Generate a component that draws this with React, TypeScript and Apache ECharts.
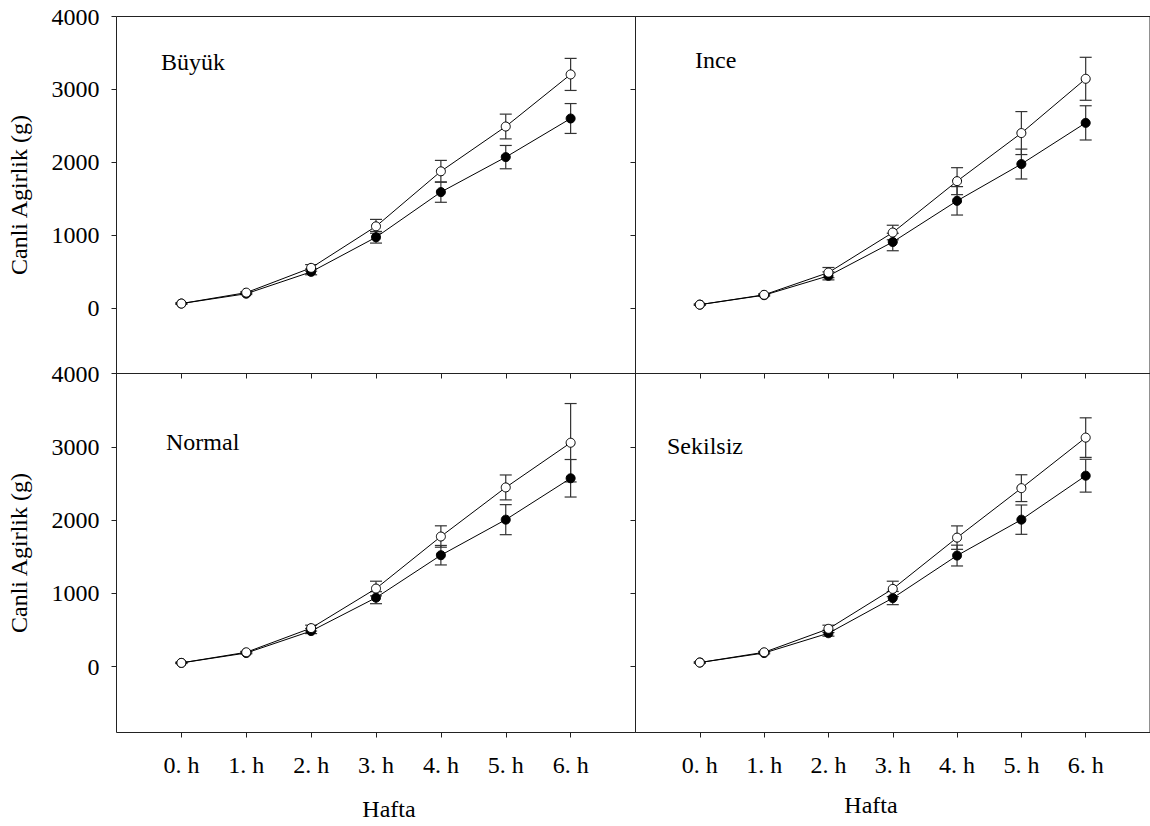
import React, { useEffect, useRef } from "react";
import * as echarts from "echarts";

// ---- data ----
const weeks = ["0. h", "1. h", "2. h", "3. h", "4. h", "5. h", "6. h"];
const weekIdx = [0, 1, 2, 3, 4, 5, 6];
const yTicks = [0, 1000, 2000, 3000, 4000];
const panelNames = ["Büyük", "Ince", "Normal", "Sekilsiz"];

// Büyük
const buyukOpen = [60, 210, 550, 1120, 1875, 2490, 3205];
const buyukOpenErr = [8, 12, 45, 95, 150, 170, 220];
const buyukFilled = [60, 195, 495, 970, 1590, 2070, 2600];
const buyukFilledErr = [8, 12, 40, 80, 140, 160, 205];
// Ince
const inceOpen = [45, 180, 485, 1035, 1740, 2400, 3145];
const inceOpenErr = [8, 12, 70, 100, 185, 295, 295];
const inceFilled = [45, 175, 440, 905, 1470, 1975, 2540];
const inceFilledErr = [8, 12, 55, 120, 195, 205, 235];
// Normal
const normalOpen = [50, 195, 525, 1065, 1775, 2445, 3055];
const normalOpenErr = [8, 12, 40, 100, 146, 170, 535];
const normalFilled = [50, 185, 485, 940, 1520, 2005, 2570];
const normalFilledErr = [8, 12, 35, 82, 133, 205, 256];
// Sekilsiz
const sekilsizOpen = [55, 195, 515, 1060, 1760, 2435, 3125];
const sekilsizOpenErr = [8, 12, 50, 105, 160, 183, 270];
const sekilsizFilled = [55, 185, 455, 935, 1515, 2005, 2605];
const sekilsizFilledErr = [8, 12, 40, 90, 142, 200, 224];

const panels = [
  { open: buyukOpen, openErr: buyukOpenErr, filled: buyukFilled, filledErr: buyukFilledErr },
  { open: inceOpen, openErr: inceOpenErr, filled: inceFilled, filledErr: inceFilledErr },
  { open: normalOpen, openErr: normalOpenErr, filled: normalFilled, filledErr: normalFilledErr },
  { open: sekilsizOpen, openErr: sekilsizOpenErr, filled: sekilsizFilled, filledErr: sekilsizFilledErr },
];

const FONT = "Liberation Serif, Times New Roman, serif";
const AXIS_COLOR = "#222";

export default function App() {
  const ref = useRef<HTMLDivElement>(null);

  useEffect(() => {
    if (!ref.current) return;
    const chart = echarts.init(ref.current, undefined, { renderer: "svg" });

    const grids = [
      { left: 116.5, top: 16.5, width: 519, height: 357 },
      { left: 635.5, top: 16.5, width: 519, height: 357 },
      { left: 116.5, top: 373.5, width: 519, height: 359 },
      { left: 635.5, top: 373.5, width: 519, height: 359 },
    ].map((g) => ({ ...g, show: true, borderColor: AXIS_COLOR, borderWidth: 1, backgroundColor: "transparent" }));

    const xAxes = grids.map((_, i) => ({
      type: "value",
      gridIndex: i,
      position: "bottom",
      min: -1,
      max: 7,
      splitLine: { show: false },
      axisLine: { show: false, onZero: false },
      axisTick: { show: true, customValues: weekIdx, length: 5, lineStyle: { color: AXIS_COLOR } },
      axisLabel: {
        show: i >= 2,
        customValues: weekIdx,
        formatter: (v: number) => weeks[Math.round(v)] ?? "",
        fontFamily: FONT,
        fontSize: 24,
        color: "#000",
        margin: 20,
      },
    }));

    const yAxes = grids.map((_, i) => ({
      type: "value",
      gridIndex: i,
      position: "left",
      min: -900,
      max: 4000,
      splitLine: { show: false },
      axisLine: { show: false, onZero: false },
      axisTick: { show: true, customValues: yTicks, length: 5, lineStyle: { color: AXIS_COLOR } },
      axisLabel: {
        show: i % 2 === 0,
        customValues: yTicks,
        formatter: (v: number) => String(v),
        fontFamily: FONT,
        fontSize: 24,
        color: "#000",
        margin: 17,
      },
      name: i % 2 === 0 ? "Canli Agirlik (g)" : "",
      nameLocation: "middle",
      nameRotate: 90,
      nameGap: 86,
      nameTextStyle: { fontFamily: FONT, fontSize: 24, color: "#000" },
    }));

    const errSeries = (vals: number[], errs: number[], i: number) => ({
      type: "custom",
      xAxisIndex: i,
      yAxisIndex: i,
      z: 1,
      silent: true,
      data: vals.map((v, k) => [weekIdx[k], v, errs[k]]),
      encode: { x: 0, y: 1 },
      renderItem: (_p: any, api: any) => {
        const x = api.value(0);
        const y = api.value(1);
        const e = api.value(2);
        const hi = api.coord([x, y + e]);
        const lo = api.coord([x, y - e]);
        const w = 6;
        const st = { stroke: "#333", lineWidth: 1.2 };
        return {
          type: "group",
          children: [
            { type: "line", shape: { x1: hi[0], y1: hi[1], x2: lo[0], y2: lo[1] }, style: st },
            { type: "line", shape: { x1: hi[0] - w, y1: hi[1], x2: hi[0] + w, y2: hi[1] }, style: st },
            { type: "line", shape: { x1: lo[0] - w, y1: lo[1], x2: lo[0] + w, y2: lo[1] }, style: st },
          ],
        };
      },
    });

    const series: any[] = [];
    panels.forEach((p, i) => {
      series.push(errSeries(p.filled, p.filledErr, i));
      series.push(errSeries(p.open, p.openErr, i));
      series.push({
        type: "line",
        xAxisIndex: i,
        yAxisIndex: i,
        z: 3,
        data: p.filled.map((v, k) => [weekIdx[k], v]),
        symbol: "circle",
        symbolSize: 9,
        lineStyle: { color: "#000", width: 1 },
        itemStyle: { color: "#000", borderColor: "#000", borderWidth: 1 },
      });
      series.push({
        type: "line",
        xAxisIndex: i,
        yAxisIndex: i,
        z: 4,
        data: p.open.map((v, k) => [weekIdx[k], v]),
        symbol: "circle",
        symbolSize: 9,
        lineStyle: { color: "#000", width: 1 },
        itemStyle: { color: "#fff", borderColor: "#000", borderWidth: 1 },
      });
    });

    const labelPos = [
      [161, 62],
      [695, 60],
      [166, 442],
      [667, 446],
    ];
    const graphic: any[] = panelNames.map((n, i) => ({
      type: "text",
      x: labelPos[i][0],
      y: labelPos[i][1],
      style: { text: n, fontFamily: FONT, fontSize: 24, fill: "#000", align: "left", verticalAlign: "middle" },
    }));
    graphic.push({
      type: "text",
      x: 389,
      y: 809,
      style: { text: "Hafta", fontFamily: FONT, fontSize: 24, fill: "#000", align: "center", verticalAlign: "middle" },
    });
    graphic.push({
      type: "text",
      x: 871,
      y: 805,
      style: { text: "Hafta", fontFamily: FONT, fontSize: 24, fill: "#000", align: "center", verticalAlign: "middle" },
    });

    chart.setOption({
      animation: false,
      backgroundColor: "#fff",
      grid: grids,
      xAxis: xAxes,
      yAxis: yAxes,
      series,
      graphic,
    });

    return () => chart.dispose();
  }, []);

  return (
    <div
      ref={ref}
      style={{ position: "absolute", left: 0, top: 0, width: 1150, height: 826, overflow: "hidden", background: "#fff" }}
    />
  );
}
